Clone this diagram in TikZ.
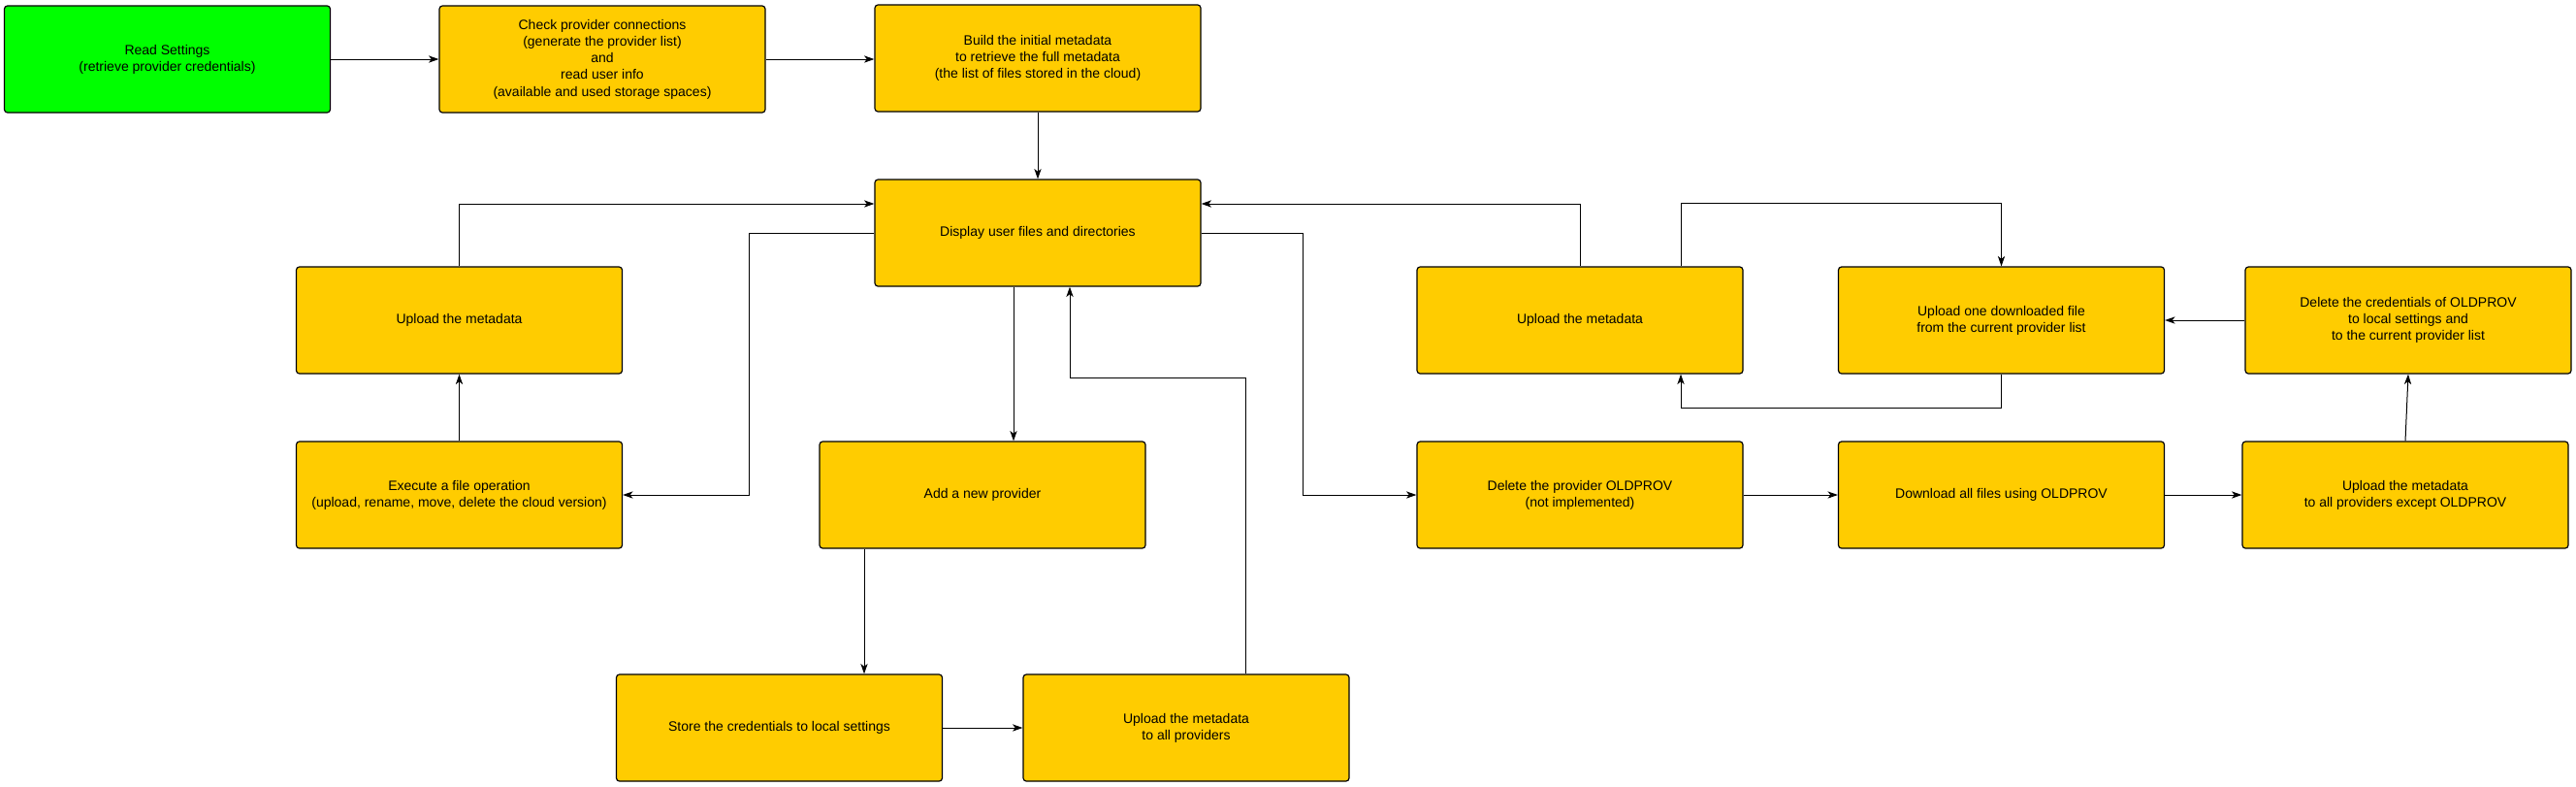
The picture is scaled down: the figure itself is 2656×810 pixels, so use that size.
\documentclass[tikz,border=0pt]{standalone}
\usepackage{fontspec}
\setmainfont{Liberation Sans}
\usetikzlibrary{arrows.meta}
\definecolor{boxyellow}{HTML}{FFCC00}
\definecolor{boxgreen}{HTML}{00FF00}
\begin{document}
\begin{tikzpicture}[x=0.5pt,y=-0.5pt,
  box/.style={draw=black, line width=0.6pt, rounded corners=1.6pt, fill=boxyellow,
    minimum width=168pt, minimum height=55pt, align=center,
    font=\fontsize{7}{8.6}\selectfont, inner sep=2pt},
  startbox/.style={box, fill=boxgreen},
  arr/.style={draw=black, line width=0.5pt, -{Stealth[length=5.2pt,width=3.6pt,inset=1.4pt]}}]
\useasboundingbox (0,0) rectangle (2656,810);
\node[startbox] (rs) at (172.5,61) {Read Settings\\(retrieve provider credentials)};
\node[box] (cp) at (621,61) {Check provider connections\\(generate the provider list)\\and\\read user info\\(available and used storage spaces)};
\node[box] (bm) at (1070,60) {Build the initial metadata\\to retrieve the full metadata\\(the list of files stored in the cloud)};
\node[box] (disp) at (1070,240) {Display user files and directories};
\node[box] (upl) at (473.5,330) {Upload the metadata};
\node[box] (exe) at (473.5,510) {Execute a file operation\\(upload, rename, move, delete the cloud version)};
\node[box] (add) at (1013,510) {Add a new provider};
\node[box] (store) at (803.5,750) {Store the credentials to local settings};
\node[box] (upall) at (1223,750) {Upload the metadata\\to all providers};
\node[box] (upr) at (1629,330) {Upload the metadata};
\node[box] (up1) at (2063.5,330) {Upload one downloaded file\\from the current provider list};
\node[box] (delc) at (2483,330) {Delete the credentials of OLDPROV\\to local settings and\\to the current provider list};
\node[box] (delp) at (1629,510) {Delete the provider OLDPROV\\(not implemented)};
\node[box] (dl) at (2063.5,510) {Download all files using OLDPROV};
\node[box] (upx) at (2480,510) {Upload the metadata\\to all providers except OLDPROV};

\draw[arr] (rs.east) -- (cp.west);
\draw[arr] (cp.east) -- (cp.east -| bm.west);
\draw[arr] (bm.south) -- (disp.north);
\draw[arr] (upl.north) |- ([yshift=15pt]disp.west);
\draw[arr] (disp.west) -- ++(-128.5,0) |- (exe.east);
\draw[arr] (exe.north) -- (upl.south);
\draw[arr] ([xshift=-12.5pt]disp.south) -- ([xshift=16pt]add.north);
\draw[arr] ([xshift=-61pt]add.south) -- ([xshift=43.75pt]store.north);
\draw[arr] (store.east) -- (upall.west);
\draw[arr] ([xshift=30.5pt]upall.north) -- ++(0,-305) -| ([xshift=16.5pt]disp.south);
\draw[arr] (disp.east) -- ++(105,0) |- (delp.west);
\draw[arr] (upr.north) |- ([yshift=15pt]disp.east);
\draw[arr] ([xshift=52pt]upr.north) -- ++(0,-65) -| (up1.north);
\draw[arr] (up1.south) -- ++(0,35) -| ([xshift=52pt]upr.south);
\draw[arr] (delc.west) -- (up1.east);
\draw[arr] (delp.east) -- (dl.west);
\draw[arr] (dl.east) -- (upx.west);
\draw[arr] (upx.north) -- (delc.south);
\end{tikzpicture}
\end{document}
